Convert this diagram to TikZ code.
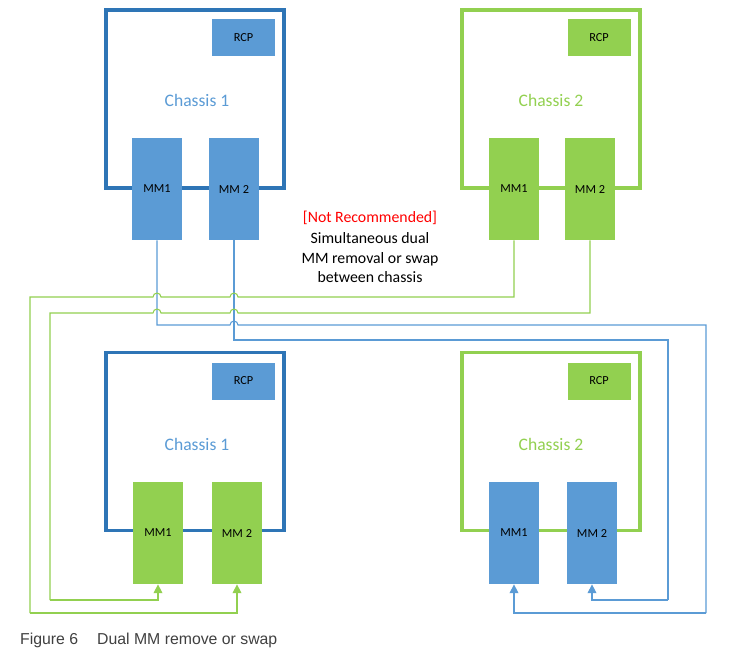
\documentclass[tikz,border=0pt]{standalone}
\usepackage{fontspec}
\setmainfont{Carlito}
\newfontfamily\capfont{Liberation Sans}
\usetikzlibrary{arrows.meta,positioning}
\definecolor{mmblue}{HTML}{5B9BD5}
\definecolor{frblue}{HTML}{2E75B6}
\definecolor{mmgreen}{HTML}{92D050}
\tikzset{
  frame/.style={draw=#1, line width=1.8pt, minimum width=3.56cm, minimum height=3.56cm, inner sep=0},
  rcp/.style={fill=#1, minimum width=1.26cm, minimum height=0.74cm, font=\scriptsize, inner sep=0},
  mm/.style={fill=#1, minimum width=1.0cm, minimum height=2.04cm, font=\scriptsize, inner sep=0},
  wire/.style={draw=#1, line width=0.6pt},
  tip/.style={-{Triangle[length=5pt,width=5pt]}}
}
\begin{document}
\begin{tikzpicture}[x=0.02cm, y=-0.02cm]
    \useasboundingbox (0,0) rectangle (729,657);

    % top row
    \node[frame=frblue] (TLf) at (195,99) {};
    \node[rcp=mmblue] (TLr) at (243.5,37.5) {RCP};
    \node[text=mmblue] (TLc) at (197,100) {Chassis 1};
    \node[mm=mmblue] (TL1) at (157,189) {MM1};
    \node[mm=mmblue] (TL2) at (234,189) {MM 2};

    \node[frame=mmgreen] (TRf) at (551,99) {};
    \node[rcp=mmgreen] (TRr) at (599,37.5) {RCP};
    \node[text=mmgreen] (TRc) at (551,100) {Chassis 2};
    \node[mm=mmgreen] (TR1) at (514,189) {MM1};
    \node[mm=mmgreen] (TR2) at (590,189) {MM 2};

    % bottom row
    \node[frame=frblue] (BLf) at (195,441.5) {};
    \node[rcp=mmblue] (BLr) at (243.5,381) {RCP};
    \node[text=mmblue] (BLc) at (197,444) {Chassis 1};
    \node[mm=mmgreen] (BL1) at (158,533) {MM1};
    \node[mm=mmgreen] (BL2) at (237,533) {MM 2};

    \node[frame=mmgreen] (BRf) at (551,441.5) {};
    \node[rcp=mmgreen] (BRr) at (599,381) {RCP};
    \node[text=mmgreen] (BRc) at (551,444) {Chassis 2};
    \node[mm=mmblue] (BR1) at (514,533) {MM1};
    \node[mm=mmblue] (BR2) at (592,533) {MM 2};

    \node[align=center, font=\small, inner sep=0] (note) at (370,247)
        {\textcolor{red}{[Not Recommended]}\\[1pt]Simultaneous dual\\MM removal or swap\\between chassis};

    % blue wires
    \draw[wire=mmblue] (TL1.south) -- (TL1.south |- 0,325) -- (230,325) arc[start angle=180, end angle=0, radius=0.08cm]
        -| (706,613);
    \draw[wire=mmblue, tip] (706,613) -| (BR1.south);
    \draw[wire=mmblue] (TL2.south) -- (TL2.south |- 0,340) -| (668,600);
    \draw[wire=mmblue, tip] (668,600) -| (BR2.south);

    % green wires
    \draw[wire=mmgreen] (TR1.south) |- (238,297) arc[start angle=0, end angle=180, radius=0.08cm]
        -- (161,297) arc[start angle=0, end angle=180, radius=0.08cm] -| (30,613);
    \draw[wire=mmgreen, tip] (30,613) -| (BL2.south);
    \draw[wire=mmgreen] (TR2.south) |- (238,313) arc[start angle=0, end angle=180, radius=0.08cm]
        -- (161,313) arc[start angle=0, end angle=180, radius=0.08cm] -| (50,600);
    \draw[wire=mmgreen, tip] (50,600) -| (BL1.south);

    \node[anchor=west, font=\capfont\small, text=black!75] (cap) at (14,640) {Figure 6\hspace{1.2em}Dual MM remove or swap};
\end{tikzpicture}
\end{document}
